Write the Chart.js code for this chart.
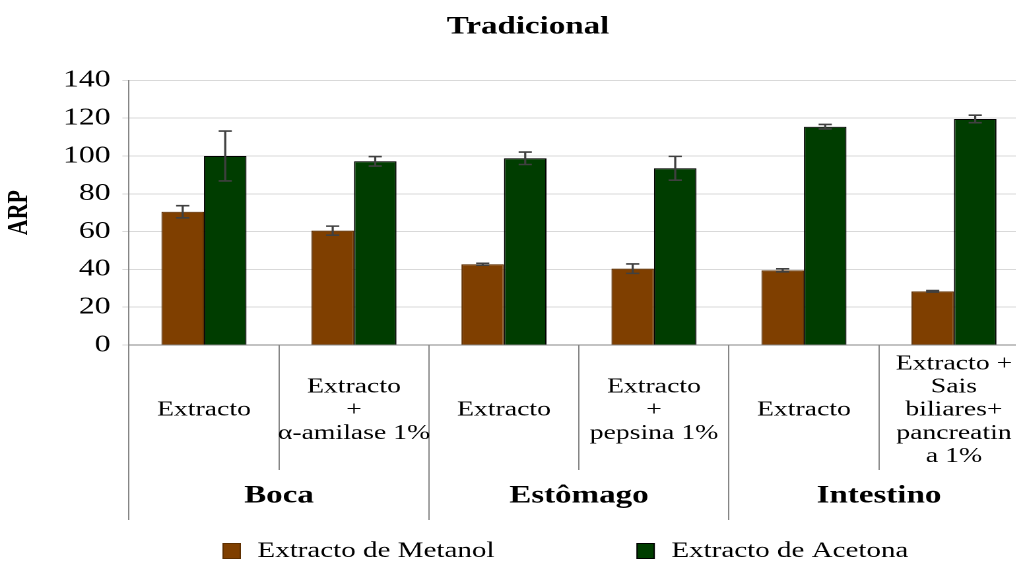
<!DOCTYPE html>
<html>
<head>
<meta charset="utf-8">
<script src="https://cdn.jsdelivr.net/npm/chart.js@4.4.1/dist/chart.umd.min.js"></script>
<style>
  html, body { margin: 0; padding: 0; overflow: hidden; background: #fff; }
  /* the reference is stretched horizontally, so stretch the canvas the same way */
  #wrap { width: 800px; height: 563px; transform: scaleX(1.32); transform-origin: 0 0; }
</style>
</head>
<body>
<div id="wrap"><canvas id="chart"></canvas></div>
<script>
// categorias (eixo x) e grupos
const categories = [
    'Extracto',
    ['Extracto', '+', 'α-amilase 1%'],
    'Extracto',
    ['Extracto', '+', 'pepsina 1%'],
    'Extracto',
    ['Extracto +', 'Sais', 'biliares+', 'pancreatin', 'a 1%']
];
const groups = ['Boca', 'Estômago', 'Intestino'];

// valores ARP e desvios
const metanol = [70.5, 60.5, 42.7, 40.4, 39.5, 28.4];
const metanolErr = [3.2, 2.4, 0.5, 2.5, 0.8, 0.4];
const acetona = [100, 97.2, 98.8, 93.5, 115.5, 119.6];
const acetonaErr = [13.2, 2.5, 3.3, 6.3, 1.2, 2.0];

const yMin = 0, yMax = 140, yStep = 20;

const serif = 'Liberation Serif';

// barras de erro desenhadas com a escala y
const errorBars = {
    id: 'errorBars',
    afterDatasetsDraw(chart) {
        const ctx = chart.ctx;
        const y = chart.scales.y;
        chart.data.datasets.forEach((ds, i) => {
            const meta = chart.getDatasetMeta(i);
            meta.data.forEach((bar, j) => {
                const v = ds.data[j], e = ds.errors[j];
                const top = y.getPixelForValue(v + e);
                const bot = y.getPixelForValue(v - e);
                ctx.save();
                ctx.strokeStyle = '#404040';
                ctx.lineWidth = 1.6;
                ctx.beginPath();
                ctx.moveTo(bar.x, top); ctx.lineTo(bar.x, bot);
                ctx.moveTo(bar.x - 5, top); ctx.lineTo(bar.x + 5, top);
                ctx.moveTo(bar.x - 5, bot); ctx.lineTo(bar.x + 5, bot);
                ctx.stroke();
                ctx.restore();
            });
        });
    }
};

// legenda numa linha, por baixo dos grupos
const legendRow = {
    id: 'legendRow',
    afterDraw(chart) {
        const ctx = chart.ctx;
        let x = 169;
        const y = 551;
        ctx.save();
        ctx.font = '22px "' + serif + '"';
        ctx.textBaseline = 'middle';
        ctx.textAlign = 'left';
        chart.data.datasets.forEach(ds => {
            ctx.fillStyle = ds.backgroundColor;
            ctx.strokeStyle = ds.borderColor;
            ctx.lineWidth = 1;
            ctx.fillRect(x, y - 7.5, 13, 15);
            ctx.strokeRect(x, y - 7.5, 13, 15);
            ctx.fillStyle = '#000';
            ctx.fillText(ds.label, x + 26, y);
            x += 26 + ctx.measureText(ds.label).width + 108;
        });
        ctx.restore();
    }
};

new Chart(document.getElementById('chart'), {
    type: 'bar',
    data: {
        labels: categories,
        datasets: [
            {
                label: 'Extracto de Metanol',
                data: metanol,
                errors: metanolErr,
                backgroundColor: '#7f3f00',
                borderColor: '#5e2f00',
                borderWidth: 1
            },
            {
                label: 'Extracto de Acetona',
                data: acetona,
                errors: acetonaErr,
                backgroundColor: '#003d00',
                borderColor: '#000000',
                borderWidth: 1
            }
        ]
    },
    options: {
        responsive: true,
        maintainAspectRatio: false,
        animation: false,
        devicePixelRatio: 2,
        barPercentage: 1.0,
        categoryPercentage: 0.567,
        layout: { padding: { left: 20.5, right: 20.5, top: 0, bottom: 0 } },
        scales: {
            x: {
                type: 'category',
                offset: true,
                weight: 0,
                grid: { offset: true, drawOnChartArea: false, tickLength: 125, color: '#868686' },
                border: { color: '#868686' },
                ticks: {
                    color: '#000',
                    font: { family: serif, size: 21, lineHeight: 1.1 },
                    padding: -106,
                    crossAlign: 'center',
                    maxRotation: 0,
                    minRotation: 0,
                    autoSkip: false
                },
                afterFit(scale) { scale.height = 125; }
            },
            x2: {
                type: 'category',
                labels: groups,
                position: 'bottom',
                offset: true,
                weight: 1,
                grid: { offset: true, drawOnChartArea: false, tickLength: 50, color: '#868686' },
                border: { display: false },
                ticks: {
                    color: '#000',
                    font: { family: serif, size: 25, weight: 'bold' },
                    padding: -39,
                    maxRotation: 0,
                    minRotation: 0,
                    autoSkip: false
                },
                afterFit(scale) { scale.height = 93; }
            },
            y: {
                min: yMin,
                max: yMax,
                ticks: {
                    stepSize: yStep,
                    color: '#000',
                    padding: 9,
                    font: { family: serif, size: 24 }
                },
                grid: { color: '#d9d9d9', tickLength: 5 },
                border: { color: '#868686' },
                title: {
                    display: true,
                    text: 'ARP',
                    color: '#000',
                    font: { family: serif, size: 22, weight: 'bold' },
                    padding: { top: -18.7, bottom: 0 }
                },
                afterFit(scale) { scale.width = 77.2; }
            }
        },
        plugins: {
            title: {
                display: true,
                text: 'Tradicional',
                color: '#000',
                font: { family: serif, size: 25, weight: 'bold' },
                padding: { top: 12, bottom: 38.4 }
            },
            legend: { display: false },
            tooltip: { enabled: false }
        }
    },
    plugins: [errorBars, legendRow]
});
</script>
</body>
</html>
